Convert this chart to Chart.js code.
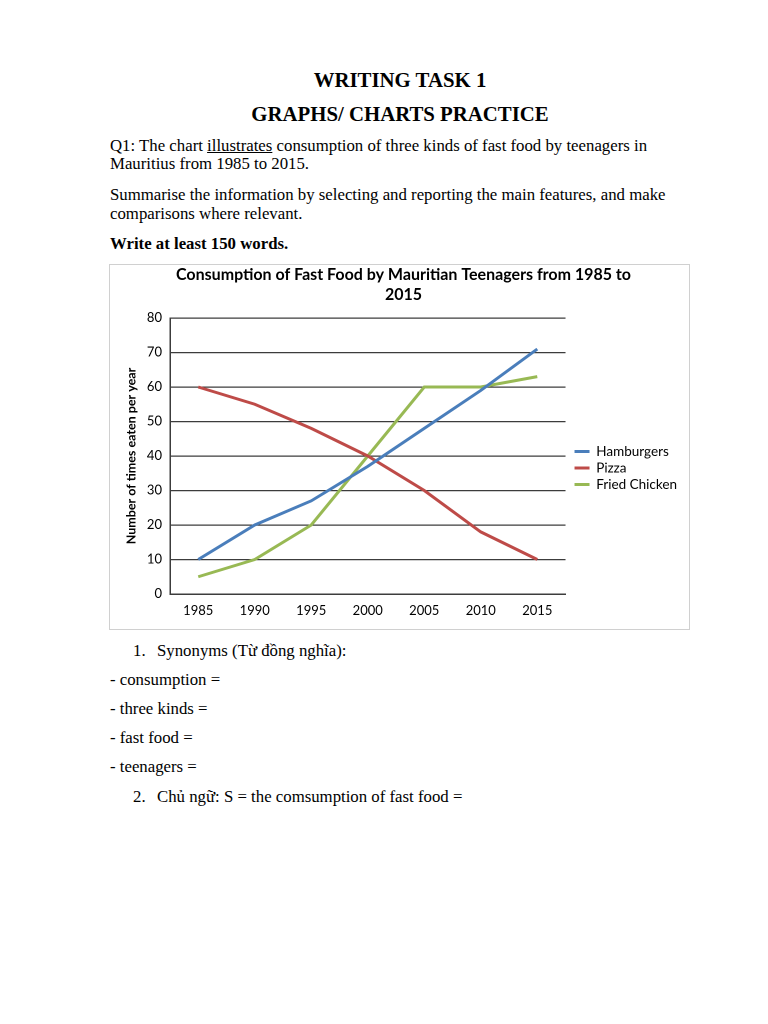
<!DOCTYPE html>
<html>
<head>
<meta charset="utf-8">
<script src="https://cdn.jsdelivr.net/npm/chart.js@4.4.1/dist/chart.umd.min.js"></script>
<style>
  html, body { margin: 0; padding: 0; background: #fff; }
  body { width: 768px; height: 1024px; position: relative; overflow: hidden;
         font-family: "Liberation Serif", "Times New Roman", serif; color: #000; }
  .ln { position: absolute; font-size: 16.8px; line-height: 20px; white-space: nowrap; }
  .hd { position: absolute; left: 0; width: 800px; text-align: center; font-weight: bold;
        font-size: 20.8px; line-height: 24px; white-space: nowrap; }
  .chart-box { position: absolute; left: 109px; top: 264px; width: 581px; height: 366px;
               border: 1px solid #d0d0d0; box-sizing: border-box; }
</style>
</head>
<body>
<div class="hd" style="top:68px">WRITING TASK 1</div>
<div class="hd" style="top:102px">GRAPHS/ CHARTS PRACTICE</div>

<div class="ln" style="left:110px;top:136px">Q1: The chart <u>illustrates</u> consumption of three kinds of fast food by teenagers in</div>
<div class="ln" style="left:110px;top:154px">Mauritius from 1985 to 2015.</div>
<div class="ln" style="left:110px;top:185px">Summarise the information by selecting and reporting the main features, and make</div>
<div class="ln" style="left:110px;top:204px">comparisons where relevant.</div>
<div class="ln" style="left:110px;top:234px;font-weight:bold">Write at least 150 words.</div>

<div class="chart-box"><canvas id="chartFood" width="579" height="364"></canvas></div>

<div class="ln" style="left:133px;top:641px">1.</div>
<div class="ln" style="left:157px;top:641px">Synonyms (Từ đồng nghĩa):</div>
<div class="ln" style="left:110px;top:670px">- consumption =</div>
<div class="ln" style="left:110px;top:699px">- three kinds =</div>
<div class="ln" style="left:110px;top:728px">- fast food =</div>
<div class="ln" style="left:110px;top:757px">- teenagers =</div>
<div class="ln" style="left:133px;top:787px">2.</div>
<div class="ln" style="left:157px;top:787px">Chủ ngữ: S = the comsumption of fast food =</div>

<script>
// datos
const years = ['1985', '1990', '1995', '2000', '2005', '2010', '2015'];
const hamburgers = [10, 20, 27, 37, 48, 59, 71];
const pizza = [60, 55, 48, 40, 30, 18, 10];
const friedChicken = [5, 10, 20, 40, 60, 60, 63];
const yTicks = [0, 10, 20, 30, 40, 50, 60, 70, 80];

const gridColor = '#3c3c3c';
const chartFont = 'Lato, "Liberation Sans", sans-serif';

new Chart(document.getElementById('chartFood'), {
    type: 'line',
    data: {
        labels: years,
        datasets: [
            { label: 'Hamburgers', data: hamburgers, borderColor: '#4A7EBB', backgroundColor: '#4A7EBB' },
            { label: 'Pizza', data: pizza, borderColor: '#BE4B48', backgroundColor: '#BE4B48' },
            { label: 'Fried Chicken', data: friedChicken, borderColor: '#98B954', backgroundColor: '#98B954' },
        ],
    },
    options: {
        responsive: false,
        animation: false,
        devicePixelRatio: 2,
        layout: { padding: { left: 10, right: 2, top: 0, bottom: 11 } },
        elements: {
            line: { borderWidth: 3, tension: 0 },
            point: { radius: 0 },
        },
        plugins: {
            title: {
                display: true,
                text: ['Consumption of Fast Food by Mauritian Teenagers from 1985 to', '2015'],
                color: '#000',
                font: { family: chartFont, size: 16, weight: 'bold', lineHeight: 1.25 },
                padding: { top: 0, bottom: 13 },
            },
            legend: {
                position: 'right',
                fullSize: false,
                maxWidth: 200,
                // titulo vacio solo para bajar un poco los items
                title: { display: true, text: ' ', font: { size: 10, lineHeight: 1.2 }, padding: { top: 12, bottom: 0 } },
                labels: {
                    color: '#000',
                    font: { family: chartFont, size: 13.5 },
                    boxWidth: 15,
                    boxHeight: 3,
                    padding: 3,
                    generateLabels: (chart) => Chart.defaults.plugins.legend.labels.generateLabels(chart)
                        .map(item => ({ ...item, lineWidth: 0 })),
                },
            },
            tooltip: { enabled: false },
        },
        scales: {
            x: {
                offset: true,
                afterFit: (scale) => { scale.height = 24; },
                grid: { display: false, drawTicks: false },
                border: { display: true, color: gridColor, width: 1.5 },
                ticks: { color: '#000', padding: 9, font: { family: chartFont, size: 13 } },
            },
            y: {
                min: 0,
                max: 80,
                afterBuildTicks: (scale) => { scale.ticks = yTicks.map(v => ({ value: v })); },
                afterFit: (scale) => { scale.width = 50; },
                grid: { color: gridColor, lineWidth: 1.3, drawTicks: false },
                border: { display: true, color: gridColor, width: 1.5 },
                ticks: { color: '#000', padding: 8, font: { family: chartFont, size: 13 } },
                title: {
                    display: true,
                    text: 'Number of times eaten per year',
                    color: '#000',
                    font: { family: chartFont, size: 12.5, weight: 'bold' },
                    padding: { top: 4, bottom: 0 },
                },
            },
            // hueco entre el area del grafico y la leyenda
            gap: {
                position: 'right',
                display: true,
                grid: { display: false, drawTicks: false },
                border: { display: false },
                ticks: { display: false },
                afterFit: (scale) => { scale.width = 6; },
            },
        },
    },
});
</script>
</body>
</html>
